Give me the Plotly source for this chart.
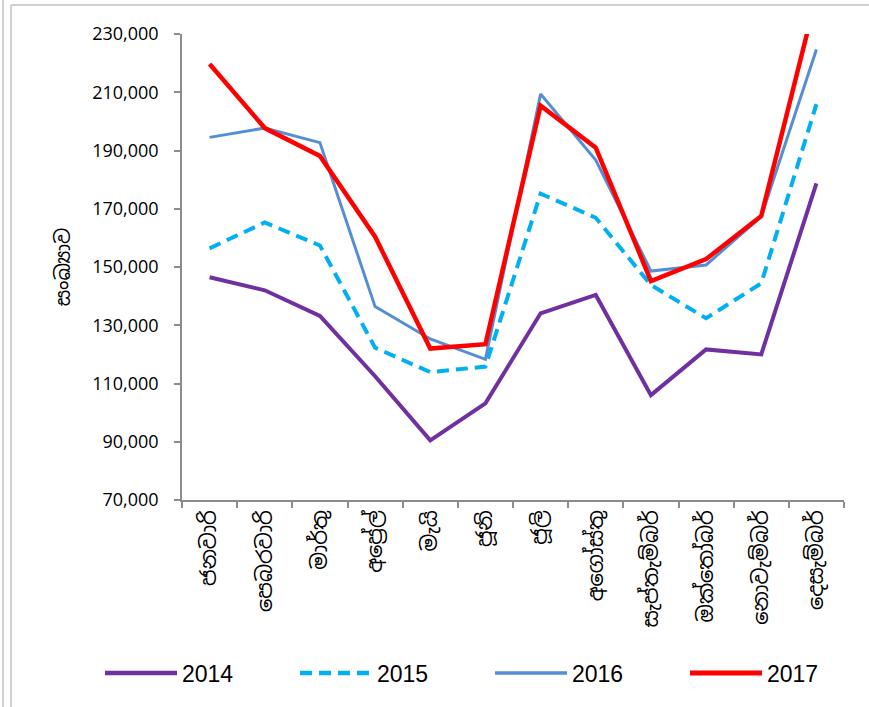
import plotly.graph_objects as go

months = ["ජනවාරි", "පෙබරවාරි", "මාර්තු", "අප්‍රේල්", "මැයි", "ජූනි",
          "ජූලි", "අගෝස්තු", "සැප්තැම්බර්", "ඔක්තෝබර්", "නොවැම්බර්", "දෙසැම්බර්"]
series_names = ["2014", "2015", "2016", "2017"]
v2014 = [146500, 142000, 133200, 112500, 90500, 103200, 134100, 140400, 106000, 121700, 120000, 178700]
v2015 = [156400, 165300, 157400, 122300, 113900, 115800, 175200, 166900, 143800, 132400, 144400, 205900]
v2016 = [194500, 197700, 192700, 136400, 125300, 118300, 209400, 186700, 148600, 150700, 167300, 224700]
v2017 = [219700, 197700, 188100, 160400, 122000, 123500, 205400, 191000, 145200, 152700, 167500, 243000]
y_ticks = [70000, 90000, 110000, 130000, 150000, 170000, 190000, 210000, 230000]
y_title = "සංඛ්‍යාව"

values = [v2014, v2015, v2016, v2017]
colors = ["#7030A0", "#00B0F0", "#558ED5", "#FF0000"]
widths = [4, 4, 3, 4.5]
dashes = ["solid", "12px,7px", "solid", "solid"]

W, H = 869, 707
L, R, T, B = 182, 25, 34, 207
PW, PH = W - L - R, H - T - B

def px(x):
    return (x - L) / PW

def py(y):
    return (H - B - y) / PH

sinhala_font = "Noto Sans Sinhala, Iskoola Pota, Noto Sans, DejaVu Sans, sans-serif"

fig = go.Figure()
for name, vals, c, w, d in zip(series_names, values, colors, widths, dashes):
    fig.add_trace(go.Scatter(x=months, y=vals, mode="lines", name=name,
                             line=dict(color=c, width=w, dash=d), showlegend=False))

shapes = []
annotations = []
# manual legend
for i, (name, c, w, d) in enumerate(zip(series_names, colors, widths, dashes)):
    x0 = 105 + 195 * i
    shapes.append(dict(type="line", xref="paper", yref="paper",
                       x0=px(x0), x1=px(x0 + 72), y0=py(673), y1=py(673),
                       line=dict(color=c, width=w + 0.5, dash=d)))
    annotations.append(dict(text=name, xref="paper", yref="paper", x=px(x0 + 75), y=py(674),
                            xanchor="left", yanchor="middle", showarrow=False,
                            font=dict(family="Liberation Sans, Arial, sans-serif",
                                      size=23, color="#000000")))
# outer chart borders
shapes.append(dict(type="line", xref="paper", yref="paper", x0=px(3), x1=px(3),
                   y0=py(0), y1=py(707), line=dict(color="#D0D0D0", width=2)))
shapes.append(dict(type="line", xref="paper", yref="paper", x0=px(11), x1=px(11),
                   y0=py(5), y1=py(707), line=dict(color="#D0D0D0", width=2)))
shapes.append(dict(type="line", xref="paper", yref="paper", x0=px(11), x1=px(869),
                   y0=py(5), y1=py(5), line=dict(color="#D0D0D0", width=2)))

fig.update_layout(
    width=W, height=H,
    margin=dict(l=L, r=R, t=T, b=B, autoexpand=False),
    paper_bgcolor="white", plot_bgcolor="white",
    shapes=shapes, annotations=annotations,
    showlegend=False,
)
fig.update_xaxes(
    type="category", range=[-0.5, len(months) - 0.5], tickangle=-90, tickson="boundaries",
    showline=True, linecolor="#8C8C8C", linewidth=1.5,
    ticks="outside", ticklen=6, tickcolor="#8C8C8C", tickwidth=1.5,
    showgrid=False, zeroline=False,
    tickfont=dict(family=sinhala_font, size=21, color="#000000"),
)
fig.update_yaxes(
    range=[70000, 230000], tickvals=y_ticks,
    ticktext=[f"{v:,}" for v in y_ticks],
    showline=True, linecolor="#8C8C8C", linewidth=1.5,
    ticks="outside", ticklen=6, tickcolor="#8C8C8C", tickwidth=1.5,
    ticklabelstandoff=12,
    showgrid=False, zeroline=False,
    tickfont=dict(family="Open Sans, Lato, sans-serif", size=18, color="#000000"),
    title=dict(text=y_title, standoff=16,
               font=dict(family=sinhala_font, size=20, color="#000000")),
)

fig.write_html("out.html", config={"displayModeBar": False},
               post_script="document.body.style.margin='0';")
